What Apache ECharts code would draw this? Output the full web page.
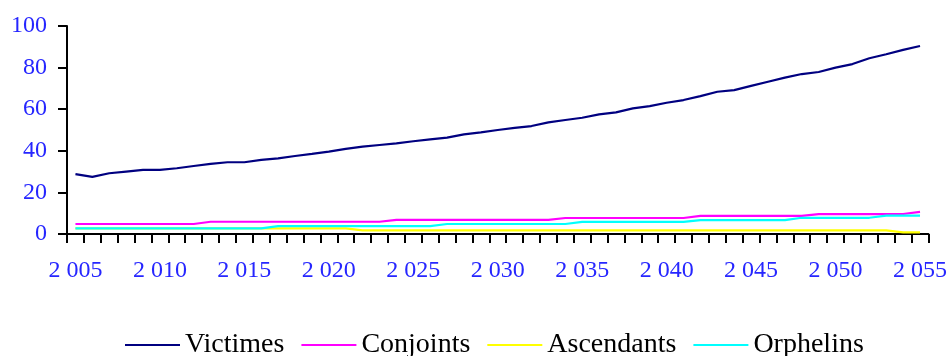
<!DOCTYPE html>
<html>
<head>
<meta charset="utf-8">
<script src="https://cdn.jsdelivr.net/npm/echarts@6/dist/echarts.min.js"></script>
<style>html,body{margin:0;padding:0;background:#fff}#c{width:950px;height:356px}</style>
</head>
<body>
<div id="c"></div>
<script>
const years = [];
for (let y = 2005; y <= 2055; y++) years.push(String(y));

const victimes = [28.8,27.5,29.2,30.0,30.8,30.8,31.6,32.7,33.7,34.5,
  34.5,35.6,36.4,37.5,38.5,39.6,40.9,42.0,42.8,43.6,
  44.6,45.5,46.3,47.9,48.9,50.0,51.0,51.9,53.7,54.8,
  55.9,57.5,58.5,60.4,61.5,63.1,64.4,66.3,68.4,69.2,
  71.2,73.2,75.2,76.9,77.9,80.0,81.7,84.5,86.4,88.5,90.4];
const conjoints = [4.8,4.8,4.8,4.8,4.8,4.8,4.8,4.8,
  5.9,5.9,5.9,5.9,5.9,5.9,5.9,5.9,5.9,5.9,5.9,
  6.8,6.8,6.8,6.8,6.8,6.8,6.8,6.8,6.8,6.8,
  7.7,7.7,7.7,7.7,7.7,7.7,7.7,7.7,
  8.7,8.7,8.7,8.7,8.7,8.7,8.7,
  9.6,9.6,9.6,9.6,9.6,9.6,
  10.6];
const ascendants = [2.7,2.7,2.7,2.7,2.7,2.7,2.7,2.7,2.7,2.7,
  2.7,2.7,2.7,2.7,2.7,2.7,2.7,
  1.7,1.7,1.7,1.7,1.7,1.7,1.7,1.7,1.7,1.7,1.7,1.7,1.7,1.7,1.7,1.7,
  1.7,1.7,1.7,1.7,1.7,1.7,1.7,1.7,1.7,1.7,1.7,1.7,1.7,1.7,1.7,1.7,
  0.8,0.8];
const orphelins = [2.7,2.7,2.7,2.7,2.7,2.7,2.7,2.7,2.7,2.7,2.7,2.7,
  3.8,3.8,3.8,3.8,3.8,3.8,3.8,3.8,3.8,3.8,
  4.8,4.8,4.8,4.8,4.8,4.8,4.8,4.8,
  5.8,5.8,5.8,5.8,5.8,5.8,5.8,
  6.7,6.7,6.7,6.7,6.7,6.7,
  7.8,7.8,7.8,7.8,7.8,
  8.8,8.8,8.8];

const seriesNames = ['Victimes','Conjoints','Ascendants','Orphelins'];
const seriesData = [victimes, conjoints, ascendants, orphelins];
const colors = ['#000080','#ff00ff','#ffff00','#00ffff'];

const chart = echarts.init(document.getElementById('c'));
chart.setOption({
  animation: false,
  grid: {left: 67, right: 20, top: 26, bottom: 122},
  legend: {
    left: 120, top: 326,
    icon: 'rect', itemWidth: 55, itemHeight: 2, itemGap: 17,
    textStyle: {fontFamily: 'Liberation Serif', fontSize: 28, color: '#000'},
    data: seriesNames
  },
  xAxis: {
    type: 'category', data: years, boundaryGap: true,
    axisLine: {show: true, lineStyle: {color: '#000', width: 2}},
    axisTick: {show: true, interval: 0, length: 9, lineStyle: {color: '#000', width: 2}},
    axisLabel: {interval: 4, margin: 25, fontFamily: 'Liberation Serif', fontSize: 24, color: '#2626ff',
      formatter: v => v.slice(0,1) + ' ' + v.slice(1)},
    splitLine: {show: false}
  },
  yAxis: {
    type: 'value', min: 0, max: 100, interval: 20,
    axisLine: {show: true, lineStyle: {color: '#000', width: 2}},
    axisTick: {show: true, length: 9, lineStyle: {color: '#000', width: 2}},
    axisLabel: {margin: 20, fontFamily: 'Liberation Serif', fontSize: 24, color: '#2626ff'},
    splitLine: {show: false}
  },
  series: seriesNames.map((n, i) => ({
    name: n, type: 'line', data: seriesData[i], showSymbol: false, symbol: 'none',
    color: colors[i], lineStyle: {color: colors[i], width: 2.2}
  }))
});
</script>
</body>
</html>
